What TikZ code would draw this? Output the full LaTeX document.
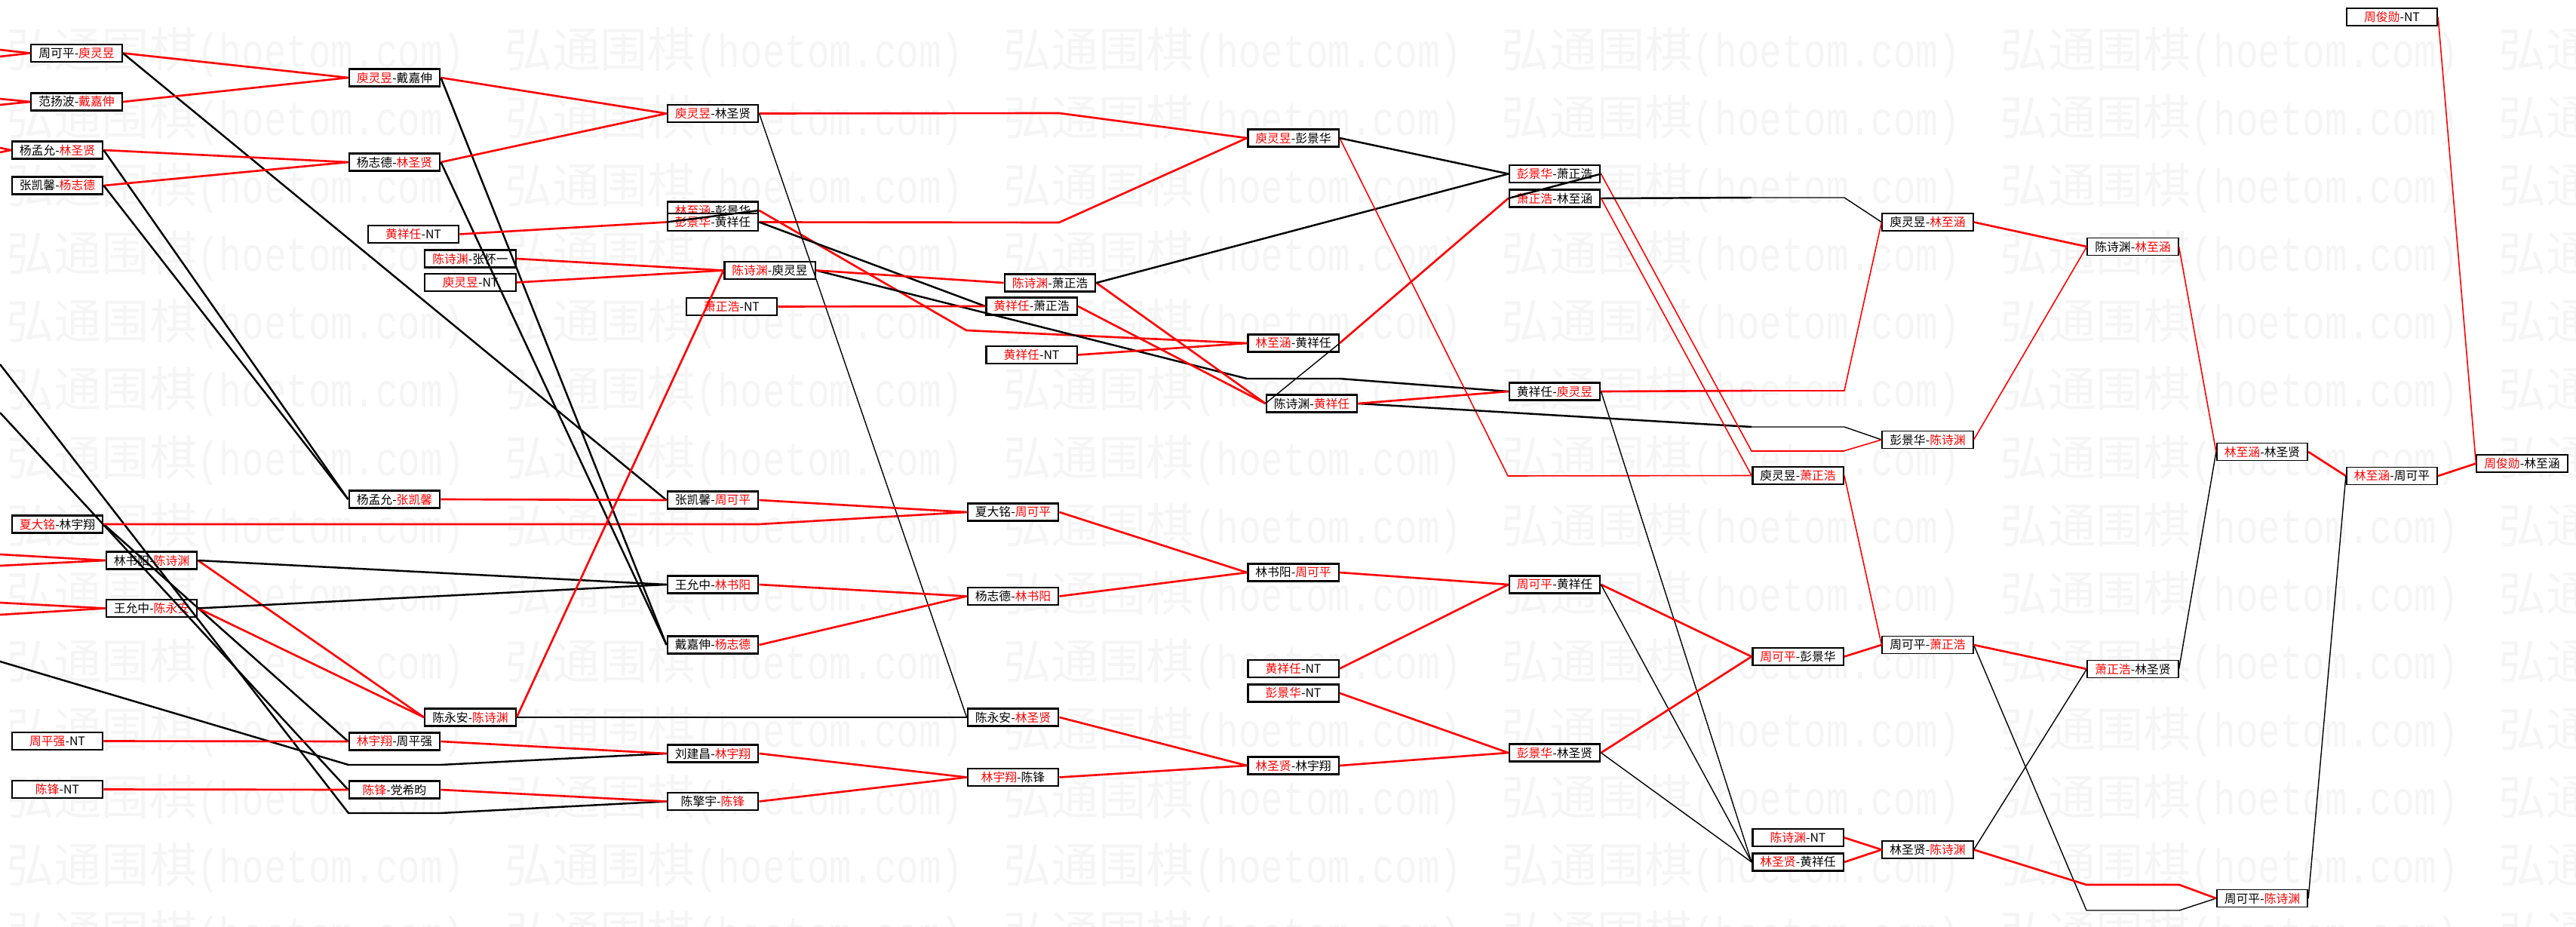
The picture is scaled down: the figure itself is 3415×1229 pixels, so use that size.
\documentclass[tikz,border=0pt]{standalone}
\usepackage{fontspec}
\setmainfont{Noto Sans CJK SC}
\newfontfamily\wmcjk{Noto Sans CJK SC}
\newfontfamily\wmmono[FakeStretch=0.78]{Liberation Mono}
\usepackage{xcolor}
\usetikzlibrary{positioning}

\newcommand{\winner}[1]{\textcolor{red}{#1}}
\newcommand{\wmtext}{\makebox[13.22cm][l]{{\wmcjk\fontsize{36}{36}\selectfont 弘通围棋}{\wmmono\fontsize{36}{36}\selectfont (hoetom.com)}}}
\newcommand{\wmrow}[1]{\node[wmark] at (8,#1) {\wmtext\wmtext\wmtext\wmtext\wmtext\wmtext};}

\begin{document}
\begin{tikzpicture}[x=0.02cm, y=-0.02cm,
    matchnode/.style={rectangle, draw=black, fill=white, line width=1.4pt, minimum width=2.41cm,
                      minimum height=0.46cm, inner sep=0pt, font=\fontsize{9}{10}\selectfont},
    lastnode/.style={matchnode, line width=1pt},
    win/.style={draw=red, line width=1.5pt},
    winthin/.style={draw=red, line width=0.9pt},
    lose/.style={draw=black, line width=1.4pt},
    losethin/.style={draw=black, line width=0.8pt},
    wmark/.style={anchor=base west, inner sep=0pt, text=black!4}]
    \useasboundingbox (0,0) rectangle (3415,1229);
    \clip (0,0) rectangle (3415,1229);

    % watermark
    \wmrow{90}   \wmrow{180}  \wmrow{270}  \wmrow{360}  \wmrow{450}
    \wmrow{540}  \wmrow{630}  \wmrow{720}  \wmrow{810}  \wmrow{900}
    \wmrow{990}  \wmrow{1080} \wmrow{1170} \wmrow{1260}

    % round 1
    \node[matchnode] (A1) at (101.5,70.5) {周可平-\winner{庾灵昱}};
    \node[matchnode] (A2) at (101.5,135)  {范扬波-\winner{戴嘉伸}};
    \node[matchnode] (A3) at (76,199)     {杨孟允-\winner{林圣贤}};
    \node[matchnode] (A4) at (76,246)     {张凯馨-\winner{杨志德}};
    \node[matchnode] (A5) at (76,695)     {\winner{夏大铭}-林宇翔};
    \node[matchnode] (A6) at (201,743)    {林书阳-\winner{陈诗渊}};
    \node[matchnode] (A7) at (201,806.5)  {王允中-\winner{陈永安}};
    \node[matchnode] (A8) at (76,982.5)   {\winner{周平强}-NT};
    \node[matchnode] (A9) at (76,1046.5)  {\winner{陈锋}-NT};

    \node[matchnode] (B1) at (523,103)    {\winner{庾灵昱}-戴嘉伸};
    \node[matchnode] (B2) at (523,215)    {杨志德-\winner{林圣贤}};
    \node[matchnode] (B3) at (548,310.5)  {\winner{黄祥任}-NT};
    \node[matchnode] (B4) at (623.5,343)  {\winner{陈诗渊}-张怀一};
    \node[matchnode] (B5) [below=0.12cm of B4] {\winner{庾灵昱}-NT};
    \node[matchnode] (B6) at (523,662)    {杨孟允-\winner{张凯馨}};
    \node[matchnode] (B7) at (623.5,951)  {陈永安-\winner{陈诗渊}};
    \node[matchnode] (B8) at (523,983)    {\winner{林宇翔}-周平强};
    \node[matchnode] (B9) at (523,1047)   {\winner{陈锋}-党希昀};

    \node[matchnode] (C1) at (945,150.5)   {\winner{庾灵昱}-林圣贤};
    \node[matchnode] (C2) at (945,279)     {\winner{林至涵}-彭景华};
    \node[matchnode] (C3) at (945,294.5)   {\winner{彭景华}-黄祥任};
    \node[matchnode] (C4) at (1020.5,358.5){\winner{陈诗渊}-庾灵昱};
    \node[matchnode] (C5) at (970,406.5)   {\winner{萧正浩}-NT};
    \node[matchnode] (C6) at (945,663)     {张凯馨-\winner{周可平}};
    \node[matchnode] (C7) at (945,775)     {王允中-\winner{林书阳}};
    \node[matchnode] (C8) at (945,855)     {戴嘉伸-\winner{杨志德}};
    \node[matchnode] (C9) at (945,999)     {刘建昌-\winner{林宇翔}};
    \node[matchnode] (C10) at (945,1062.5) {陈擎宇-\winner{陈锋}};

    \node[matchnode] (D1) at (1392,375)    {\winner{陈诗渊}-萧正浩};
    \node[matchnode] (D2) at (1367.5,406)  {\winner{黄祥任}-萧正浩};
    \node[matchnode] (D3) at (1367.5,470.5){\winner{黄祥任}-NT};
    \node[matchnode] (D4) at (1343,679)    {夏大铭-\winner{周可平}};
    \node[matchnode] (D5) at (1343,790.5)  {杨志德-\winner{林书阳}};
    \node[matchnode] (D6) at (1343,951)    {陈永安-\winner{林圣贤}};
    \node[matchnode] (D7) at (1343,1030.5) {\winner{林宇翔}-陈锋};

    \node[matchnode] (E1) at (1714.5,183)  {\winner{庾灵昱}-彭景华};
    \node[matchnode] (E2) at (1714.5,455)  {\winner{林至涵}-黄祥任};
    \node[matchnode] (E3) at (1739,535)    {陈诗渊-\winner{黄祥任}};
    \node[matchnode] (E4) at (1714.5,759)  {林书阳-\winner{周可平}};
    \node[matchnode] (E5) at (1714.5,886.5){\winner{黄祥任}-NT};
    \node[matchnode] (E6) [below=0.14cm of E5] {\winner{彭景华}-NT};
    \node[matchnode] (E7) at (1714.5,1015) {\winner{林圣贤}-林宇翔};

    \node[matchnode] (F1) at (2061,230.5)  {\winner{彭景华}-萧正浩};
    \node[matchnode] (F2) at (2061,263)    {\winner{萧正浩}-林至涵};
    \node[matchnode] (F3) at (2061,519)    {黄祥任-\winner{庾灵昱}};
    \node[matchnode] (F4) at (2061,775)    {\winner{周可平}-黄祥任};
    \node[matchnode] (F5) at (2061,998)    {\winner{彭景华}-林圣贤};

    \node[matchnode] (G1) at (2383.5,630.5) {庾灵昱-\winner{萧正浩}};
    \node[matchnode] (G2) at (2383.5,870.5) {\winner{周可平}-彭景华};
    \node[matchnode] (G3) at (2383.5,1110.5){\winner{陈诗渊}-NT};
    \node[matchnode] (G4) [below=0.14cm of G3] {\winner{林圣贤}-黄祥任};

    \node[lastnode] (H1) at (2555.5,294.5)  {庾灵昱-\winner{林至涵}};
    \node[lastnode] (H2) at (2555.5,583)    {彭景华-\winner{陈诗渊}};
    \node[lastnode] (H3) at (2555.5,855)    {周可平-\winner{萧正浩}};
    \node[lastnode] (H4) at (2555.5,1126.5) {林圣贤-\winner{陈诗渊}};

    \node[lastnode] (I1) at (2827.5,327)    {陈诗渊-\winner{林至涵}};
    \node[lastnode] (I2) at (2827.5,887)    {\winner{萧正浩}-林圣贤};
    \node[lastnode] (J1) at (2999,599)      {\winner{林至涵}-林圣贤};
    \node[lastnode] (J2) at (2999,1191)     {周可平-\winner{陈诗渊}};
    \node[lastnode] (K1) at (3171,22.5)     {\winner{周俊勋}-NT};
    \node[lastnode] (K2) at (3171,631)      {\winner{林至涵}-周可平};
    \node[lastnode] (L1) at (3343.5,614.5)  {\winner{周俊勋}-林至涵};

    % loose ends and corners
    \coordinate (S1) at (0,66);   \coordinate (S2) at (0,75);
    \coordinate (S3) at (0,131);  \coordinate (S4) at (0,139);
    \coordinate (S5) at (0,196);  \coordinate (S6) at (0,202);
    \coordinate (S7) at (0,735);  \coordinate (S8) at (0,750);
    \coordinate (S9) at (0,799);  \coordinate (S10) at (0,815);
    \coordinate (S11) at (0,483); \coordinate (S12) at (0,547);
    \coordinate (S13) at (0,877);
    \coordinate (Q1) at (462,1014);  \coordinate (Q2) at (584,1014);
    \coordinate (Q3) at (462,1078);  \coordinate (Q4) at (584,1078);
    \coordinate (Q5) at (1006,695);
    \coordinate (Q6) at (1404,150);  \coordinate (Q7) at (1404,295);
    \coordinate (Q8) at (1281,438);
    \coordinate (Q9) at (1653,502);  \coordinate (Q10) at (1776,502);
    \coordinate (Q11) at (1999,631);
    \coordinate (Q12) at (2322,598); \coordinate (Q13) at (2444,598);
    \coordinate (Q14) at (2322,262); \coordinate (Q15) at (2445,262);
    \coordinate (Q16) at (2322,518); \coordinate (Q17) at (2445,518);
    \coordinate (Q18) at (2322,566); \coordinate (Q19) at (2445,566);
    \coordinate (Q20) at (2766,1207); \coordinate (Q21) at (2889,1207);
    \coordinate (Q22) at (2766,1173); \coordinate (Q23) at (2889,1173);

    % round 1 lines
    \path (S1) edge[win] (A1.west)
          (S2) edge[win] (A1.west)
          (S3) edge[win] (A2.west)
          (S4) edge[win] (A2.west)
          (S5) edge[win] (A3.west)
          (S6) edge[win] (A3.west)
          (S7) edge[win] (A6.west)
          (S8) edge[win] (A6.west)
          (S9) edge[win] (A7.west)
          (S10) edge[win] (A7.west)
          (S12) edge[lose] (B9.west);
    \draw[lose] (S11) -- (Q3) -- (Q4) -- (C10.west);
    \draw[lose] (S13) -- (Q1) -- (Q2) -- (C9.west);

    \path (A1.east) edge[win] (B1.west)
                    edge[lose] (C6.west)
          (A2.east) edge[win] (B1.west)
          (A3.east) edge[win] (B2.west)
                    edge[lose] (B6.west)
          (A4.east) edge[win] (B2.west)
                    edge[lose] (B6.west)
          (A5.east) edge[lose] (B8.west)
          (A6.east) edge[win] (B7.west)
                    edge[lose] (C7.west)
          (A7.east) edge[win] (B7.west)
                    edge[lose] (C7.west)
          (A8.east) edge[win] (B8.west)
          (A9.east) edge[win] (B9.west);
    \draw[win] (A5.east) -- (Q5) -- (D4.west);

    % round 2
    \path (B1.east) edge[win] (C1.west)
                    edge[lose] (C8.west)
          (B2.east) edge[win] (C1.west)
                    edge[lose] (C8.west)
          (B3.east) edge[win] (C3.west)
          (B4.east) edge[win] (C4.west)
          (B5.east) edge[win] (C4.west)
          (B6.east) edge[win] (C6.west)
          (B7.east) edge[win] (C4.west)
                    edge[lose] (D6.west)
          (B8.east) edge[win] (C9.west)
          (B9.east) edge[win] (C10.west);

    % round 3
    \draw[win] (C1.east) -- (Q6) -- (E1.west);
    \draw[win] (C3.east) -- (Q7) -- (E1.west);
    \draw[win] (C2.east) -- (Q8) -- (E2.west);
    \draw[lose] (C4.east) -- (Q9) -- (Q10) -- (F3.west);
    \path (C1.east) edge[losethin] (D6.west)
          (C2.east) edge[lose] (C3.west)
          (C3.east) edge[lose] (D2.west)
          (C4.east) edge[win] (D1.west)
          (C5.east) edge[win] (D2.west)
          (C6.east) edge[win] (D4.west)
          (C7.east) edge[win] (D5.west)
          (C8.east) edge[win] (D5.west)
          (C9.east) edge[win] (D7.west)
          (C10.east) edge[win] (D7.west);

    % round 4
    \path (D1.east) edge[win] (E3.west)
                    edge[lose] (F1.west)
          (D2.east) edge[win] (E3.west)
          (D3.east) edge[win] (E2.west)
          (D4.east) edge[win] (E4.west)
          (D5.east) edge[win] (E4.west)
          (D6.east) edge[win] (E7.west)
          (D7.east) edge[win] (E7.west);

    % round 5
    \draw[winthin] (E1.east) -- (Q11) -- (G1.west);
    \draw[lose] (E3.east) -- (Q18);
    \draw[losethin] (Q18) -- (Q19) -- (H2.west);
    \path (E1.east) edge[lose] (F1.west)
          (E2.east) edge[win] (F2.west)
                    edge[losethin] (E3.west)
          (E3.east) edge[win] (F3.west)
          (E4.east) edge[win] (F4.west)
          (E5.east) edge[win] (F4.west)
          (E6.east) edge[win] (F5.west)
          (E7.east) edge[win] (F5.west);

    % round 6
    \draw[winthin] (F1.east) -- (Q12) -- (Q13) -- (H2.west);
    \draw[lose] (F2.east) -- (Q14);
    \draw[losethin] (Q14) -- (Q15) -- (H1.west);
    \draw[win] (F3.east) -- (Q16);
    \draw[winthin] (Q16) -- (Q17) -- (H1.west);
    \path (F1.east) edge[lose] (F2.west)
          (F2.east) edge[winthin] (G1.west)
          (F3.east) edge[losethin] (G4.west)
          (F4.east) edge[win] (G2.west)
                    edge[losethin] (G4.west)
          (F5.east) edge[win] (G2.west)
                    edge[losethin] (G4.west);

    % round 7
    \path (G1.east) edge[winthin] (H3.west)
          (G2.east) edge[win] (H3.west)
          (G3.east) edge[win] (H4.west)
          (G4.east) edge[win] (H4.west);

    % final rounds
    \draw[losethin] (H3.east) -- (Q20) -- (Q21) -- (J2.west);
    \draw[win] (H4.east) -- (Q22) -- (Q23) -- (J2.west);
    \path (H1.east) edge[win] (I1.west)
          (H2.east) edge[winthin] (I1.west)
          (H3.east) edge[win] (I2.west)
          (H4.east) edge[losethin] (I2.west)
          (I1.east) edge[winthin] (J1.west)
          (I2.east) edge[losethin] (J1.west)
          (J1.east) edge[win] (K2.west)
          (J2.east) edge[losethin] (K2.west)
          (K1.east) edge[winthin] (L1.west)
          (K2.east) edge[win] (L1.west);
\end{tikzpicture}
\end{document}
